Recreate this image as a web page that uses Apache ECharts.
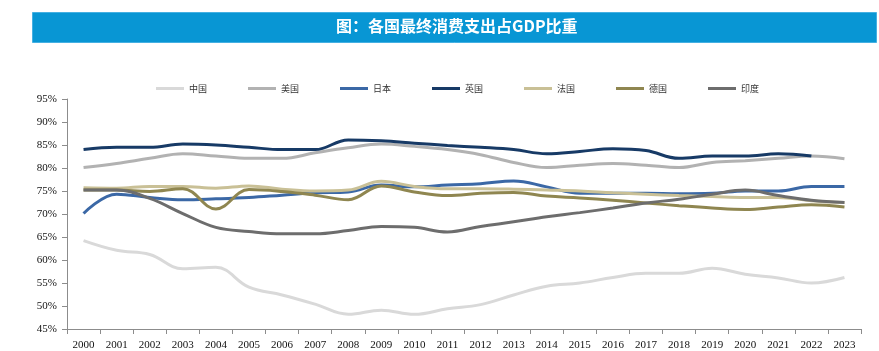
<!DOCTYPE html>
<html>
<head>
<meta charset="utf-8">
<script src="https://cdn.jsdelivr.net/npm/echarts@6/dist/echarts.min.js"></script>
<style>
html,body{margin:0;padding:0;background:#fff;}
#c{width:879px;height:351px;}
</style>
</head>
<body>
<div id="c"></div>
<script>
const titleText = '图：各国最终消费支出占GDP比重';
const years = ['2000','2001','2002','2003','2004','2005','2006','2007','2008','2009','2010','2011','2012','2013','2014','2015','2016','2017','2018','2019','2020','2021','2022','2023'];
const china   = [64.2,62.1,61.2,58.1,58.4,54.1,52.4,50.4,48.2,49.1,48.2,49.4,50.3,52.4,54.3,55.0,56.2,57.1,57.1,58.2,56.9,56.1,55.0,56.2];
const usa     = [80.1,81.0,82.1,83.1,82.6,82.1,82.1,83.3,84.4,85.2,84.7,84.0,82.9,81.2,80.1,80.6,81.0,80.6,80.1,81.2,81.6,82.1,82.6,82.0];
const japan   = [70.1,74.3,73.6,73.1,73.3,73.6,74.1,74.6,74.8,76.3,75.9,76.3,76.6,77.2,75.9,74.5,74.5,74.5,74.4,74.5,75.0,75.0,76.0,76.0];
const uk      = [84.0,84.5,84.5,85.2,85.0,84.5,84.0,84.0,86.1,85.9,85.4,84.9,84.5,84.0,83.1,83.6,84.2,83.8,82.1,82.6,82.6,83.1,82.6,null];
const france  = [75.7,75.6,76.0,76.0,75.6,76.1,75.4,75.0,75.2,77.1,76.0,75.5,75.5,75.4,75.2,75.0,74.6,74.3,74.0,73.8,73.6,73.6,72.9,72.5];
const germany = [75.2,75.2,74.9,75.5,71.1,75.3,74.9,74.1,73.1,76.1,74.8,74.0,74.5,74.7,73.9,73.5,73.0,72.4,71.8,71.3,71.0,71.5,72.0,71.5];
const india   = [75.2,75.2,73.4,70.1,67.1,66.2,65.7,65.7,66.4,67.3,67.1,66.1,67.3,68.3,69.4,70.3,71.3,72.4,73.2,74.3,75.2,74.0,73.0,72.5];
const seriesNames = ['中国','美国','日本','英国','法国','德国','印度'];
const seriesData = [china, usa, japan, uk, france, germany, india];
const seriesColors = ['#d9d9d9','#b2b2b2','#3b68a6','#173a66','#c9c096','#8f8650','#6d6d6d'];

const chart = echarts.init(document.getElementById('c'));
chart.setOption({
  animation: false,
  backgroundColor: '#fff',
  graphic: [
    {type:'rect', left:32, top:12, shape:{width:844, height:30}, style:{fill:'#0896d4', stroke:'#45b0e2', lineWidth:1}},
    {type:'text', left:336, top:18, style:{text:titleText, fill:'#fff', font:'bold 16px "Noto Sans CJK SC", sans-serif'}}
  ],
  legend: {
    left: 151, top: 79,
    icon: 'rect', itemWidth: 28, itemHeight: 3, itemGap: 41,
    textStyle: {fontSize: 9, color: '#333', fontFamily: '"Noto Sans CJK SC", sans-serif'},
    data: seriesNames
  },
  grid: {left: 67, right: 18, top: 99, bottom: 14, containLabel: false},
  xAxis: {
    type: 'category', data: years, boundaryGap: true,
    axisLine: {lineStyle: {color: '#8c8c8c'}},
    axisTick: {show: true, length: 5, lineStyle: {color: '#8c8c8c'}},
    axisLabel: {fontSize: 11, color: '#111', fontFamily: '"Liberation Serif", serif', margin: 11, interval: 0}
  },
  yAxis: {
    type: 'value', min: 45, max: 95, interval: 5,
    axisLine: {show: true, lineStyle: {color: '#8c8c8c'}},
    axisTick: {show: true, length: 5, lineStyle: {color: '#8c8c8c'}},
    splitLine: {show: false},
    axisLabel: {fontSize: 11, color: '#111', fontFamily: '"Liberation Serif", serif', margin: 10, formatter: v => v + '%'}
  },
  series: seriesNames.map((n, i) => ({
    name: n, type: 'line', data: seriesData[i], smooth: 0.4,
    showSymbol: false, symbol: 'none',
    lineStyle: {width: 3, color: seriesColors[i]},
    itemStyle: {color: seriesColors[i]}
  }))
});
</script>
</body>
</html>
